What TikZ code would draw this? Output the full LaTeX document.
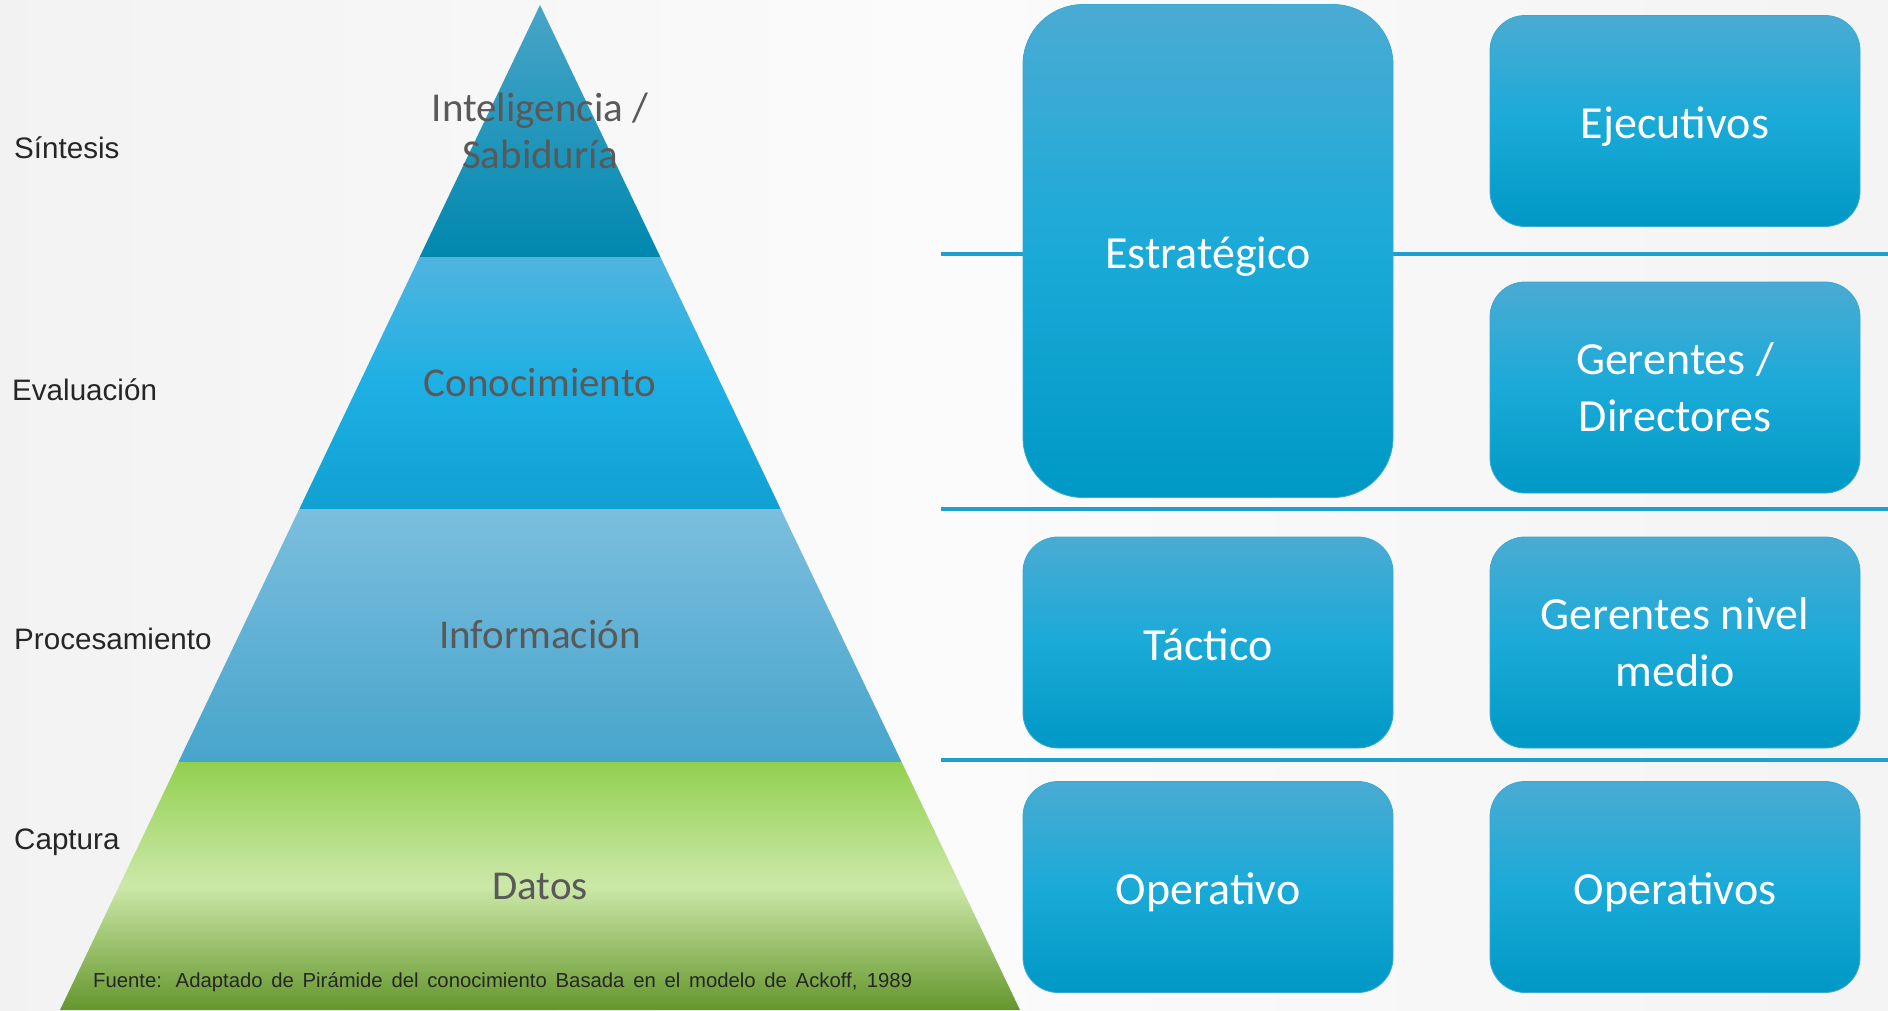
\documentclass[tikz,border=0pt]{standalone}
\usepackage{fontspec}
\setmainfont{Carlito}
\newfontfamily\arialf{Liberation Sans}
\definecolor{txtgray}{HTML}{595959}
\definecolor{lbl}{HTML}{262626}
\definecolor{sepblue}{HTML}{1EA0CF}
\definecolor{boxtop}{HTML}{4AABD3}
\definecolor{boxmid}{HTML}{1AAAD8}
\definecolor{boxbot}{HTML}{0098C5}
\definecolor{boxline}{HTML}{3AA9D2}
\begin{document}
\begin{tikzpicture}[x=1pt,y=-1pt,
  tiertext/.style={text=txtgray,font=\fontsize{41}{47}\selectfont,align=center},
  sidelabel/.style={anchor=west,text=lbl,font=\arialf\fontsize{29.6}{34}\selectfont,inner sep=0},
  sepline/.style={draw=sepblue,line width=3.4pt},
  levelbox/.style={draw=boxline,line width=0.8pt,top color=boxtop,bottom color=boxbot,middle color=boxmid,
     minimum width=370pt,text=white,align=center,font=\fontsize{46}{57}\selectfont,inner sep=0},
  oneline/.style={text height=44pt,text depth=9pt},
  bigbox/.style={levelbox,minimum height=493pt,rounded corners=60pt},
  smallbox/.style={levelbox,minimum height=211pt,rounded corners=35pt}
]
\useasboundingbox (0,0) rectangle (1888,1010);
\shade[left color=black!5,right color=black!4.5,middle color=black!1.5] (0,0) rectangle (1888,1010);

% pyramid tiers
\shade[top color={rgb,255:red,72;green,165;blue,200},bottom color={rgb,255:red,0;green,136;blue,175}]
  (540,5) -- (660.4,257) -- (419.6,257) -- cycle;
\shade[top color={rgb,255:red,80;green,180;blue,223},bottom color={rgb,255:red,16;green,160;blue,210},middle color={rgb,255:red,30;green,176;blue,228}]
  (419.6,257) -- (660.4,257) -- (780.7,509) -- (299.3,509) -- cycle;
\shade[top color={rgb,255:red,123;green,190;blue,221},bottom color={rgb,255:red,71;green,165;blue,204}]
  (299.3,509) -- (780.7,509) -- (901.6,762) -- (178.4,762) -- cycle;
\shade[top color={rgb,255:red,146;green,208;blue,80},bottom color={rgb,255:red,100;green,150;blue,44},middle color={rgb,255:red,204;green,232;blue,168}]
  (178.4,762) -- (901.6,762) -- (1020,1010) -- (60,1010) -- cycle;

\node[tiertext] (sab) at (540,131) {Inteligencia /\\Sabiduría};
\node[tiertext] (con) at (540,383) {Conocimiento};
\node[tiertext] (inf) at (540,635) {Información};
\node[tiertext] (dat) at (540,886) {Datos};

\node[anchor=west,inner sep=0,text=lbl,font=\arialf\fontsize{20.3}{24}\selectfont] (fuente) at (93,982)
  {\makebox[819pt][s]{Fuente: Adaptado de Pirámide del conocimiento Basada en el modelo de Ackoff, 1989}};

% side labels
\node[sidelabel] (sin) at (14,148) {Síntesis};
\node[sidelabel] (eva) at (12,390) {Evaluación};
\node[sidelabel] (pro) at (14,639) {Procesamiento};
\node[sidelabel] (cap) at (14,842) {Captura};

% separator lines
\coordinate (s1a) at (941,254); \coordinate (s1b) at (1888,254);
\coordinate (s2a) at (941,509); \coordinate (s2b) at (1888,509);
\coordinate (s3a) at (941,760); \coordinate (s3b) at (1888,760);
\draw[sepline] (s1a) -- (s1b);
\draw[sepline] (s2a) -- (s2b);
\draw[sepline] (s3a) -- (s3b);

% boxes
\node[bigbox,oneline] (est) at (1208,251) {Estratégico};
\node[smallbox,oneline] (eje) at (1675,121) {Ejecutivos};
\node[smallbox] (ger) at (1675,387.5) {Gerentes /\\Directores};
\node[smallbox,oneline] (tac) at (1208,642.5) {Táctico};
\node[smallbox] (gnm) at (1675,642.5) {Gerentes nivel\\medio};
\node[smallbox,oneline] (ope) at (1208,887) {Operativo};
\node[smallbox,oneline] (opes) at (1675,887) {Operativos};
\end{tikzpicture}
\end{document}
